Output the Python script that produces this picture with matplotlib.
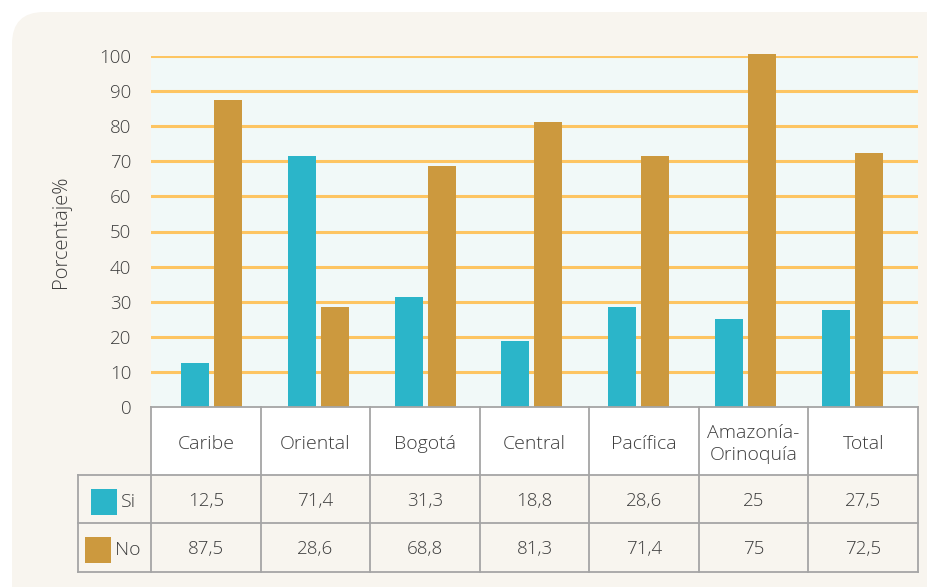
import matplotlib
matplotlib.use("Agg")
import matplotlib.pyplot as plt
from matplotlib.patches import FancyBboxPatch, Rectangle
from matplotlib.transforms import IdentityTransform

categories = ["Caribe", "Oriental", "Bogotá", "Central", "Pacífica", "Amazonía-\nOrinoquía", "Total"]
si_values = [12.5, 71.4, 31.3, 18.8, 28.6, 25, 27.5]
no_values = [87.5, 28.6, 68.8, 81.3, 71.4, 100.6, 72.5]
si_labels = ["12,5", "71,4", "31,3", "18,8", "28,6", "25", "27,5"]
no_labels = ["87,5", "28,6", "68,8", "81,3", "71,4", "75", "72,5"]
y_ticks = [0, 10, 20, 30, 40, 50, 60, 70, 80, 90, 100]

TEAL = "#2bb5c9"
GOLD = "#cc993e"
PANEL = "#f8f5ef"
PLOTBG = "#f1f9f8"
GRID = "#fdc562"
TXT = "#3d3d3d"
BORDER = "#a5a5a5"

plt.rcParams["font.family"] = ["Open Sans", "DejaVu Sans"]
plt.rcParams["font.weight"] = "light"
plt.rcParams["axes.labelweight"] = "light"

W, H = 928, 587
fig = plt.figure(figsize=(W / 100, H / 100), dpi=100)
fig.patch.set_facecolor("white")

panel = FancyBboxPatch((12, -60), 1000, H - 12 + 60,
                       boxstyle="round,pad=0,rounding_size=32",
                       transform=IdentityTransform(), facecolor=PANEL,
                       edgecolor="none", zorder=-10)
fig.patches.append(panel)

left, right, top, bottom = 151, 918, 56, 407
n = len(categories)

# main bar axes: bar groups are spaced slightly tighter than the table columns
ax = fig.add_axes([left / W, 1 - bottom / H, (right - left) / W, (bottom - top) / H])
ax.set_facecolor(PLOTBG)
step = 106.83
ax.set_xlim((left - 211.5) / step, (right - 211.5) / step)
ax.set_ylim(0, 100)

for y in y_ticks[1:]:
    ax.axhline(y, color=GRID, lw=2.2, zorder=1)

x = list(range(n))
bw = 28 / step
off = 16.5 / step
ax.bar([i - off for i in x], si_values, width=bw, color=TEAL, zorder=3, clip_on=False)
ax.bar([i + off for i in x], no_values, width=bw, color=GOLD, zorder=3, clip_on=False)

for s in ax.spines.values():
    s.set_visible(False)
ax.set_xticks([])
ax.set_yticks(y_ticks)
ax.tick_params(axis="y", length=0, pad=14.2, labelsize=13.5, labelcolor=TXT)
ax.set_ylabel("Porcentaje%", fontsize=14.5, color=TXT, fontweight="light")
ax.yaxis.set_label_coords((71 - left) / (right - left), 0.5)

# table axes (pixel-like coordinates)
tax = fig.add_axes([78 / W, 1 - 573 / H, (right - 78) / W, (573 - bottom) / H])
tax.set_xlim(78, right)
tax.set_ylim(573, bottom)
tax.axis("off")
tax.patch.set_visible(False)

col_w = (right - left) / n
y_hdr, y_si, y_no = 475, 523, 572
tax.add_patch(Rectangle((left, bottom), right - left, y_hdr - bottom,
                        facecolor="white", edgecolor="none", zorder=2, clip_on=False))
lkw = dict(color=BORDER, lw=1.3, clip_on=False, zorder=4, solid_capstyle="projecting")
tax.plot([left, right], [bottom, bottom], **lkw)
for yy in (y_hdr, y_si, y_no):
    tax.plot([78, right], [yy, yy], **lkw)
for i in range(n + 1):
    xx = left + i * col_w
    tax.plot([xx, xx], [bottom, y_no], **lkw)
tax.plot([78, 78], [y_hdr, y_no], **lkw)

for i, c in enumerate(categories):
    cx = left + (i + 0.5) * col_w
    tax.text(cx, (bottom + y_hdr) / 2 + 3, c, ha="center", va="center",
             fontsize=14, color=TXT, linespacing=1.3)
    tax.text(cx, (y_hdr + y_si) / 2 + 2, si_labels[i], ha="center",
             va="center", fontsize=13.5, color=TXT)
    tax.text(cx, (y_si + y_no) / 2 + 2, no_labels[i], ha="center",
             va="center", fontsize=13.5, color=TXT)

# legend keys in table
tax.add_patch(Rectangle((91, 489), 26, 26, facecolor=TEAL, edgecolor="none", zorder=5))
tax.add_patch(Rectangle((85, 537), 26, 26, facecolor=GOLD, edgecolor="none", zorder=5))
tax.text(121, 502, "Si", ha="left", va="center", fontsize=14, color=TXT)
tax.text(115, 550, "No", ha="left", va="center", fontsize=14, color=TXT)

fig.savefig("out.png", dpi=100, facecolor=fig.get_facecolor())
